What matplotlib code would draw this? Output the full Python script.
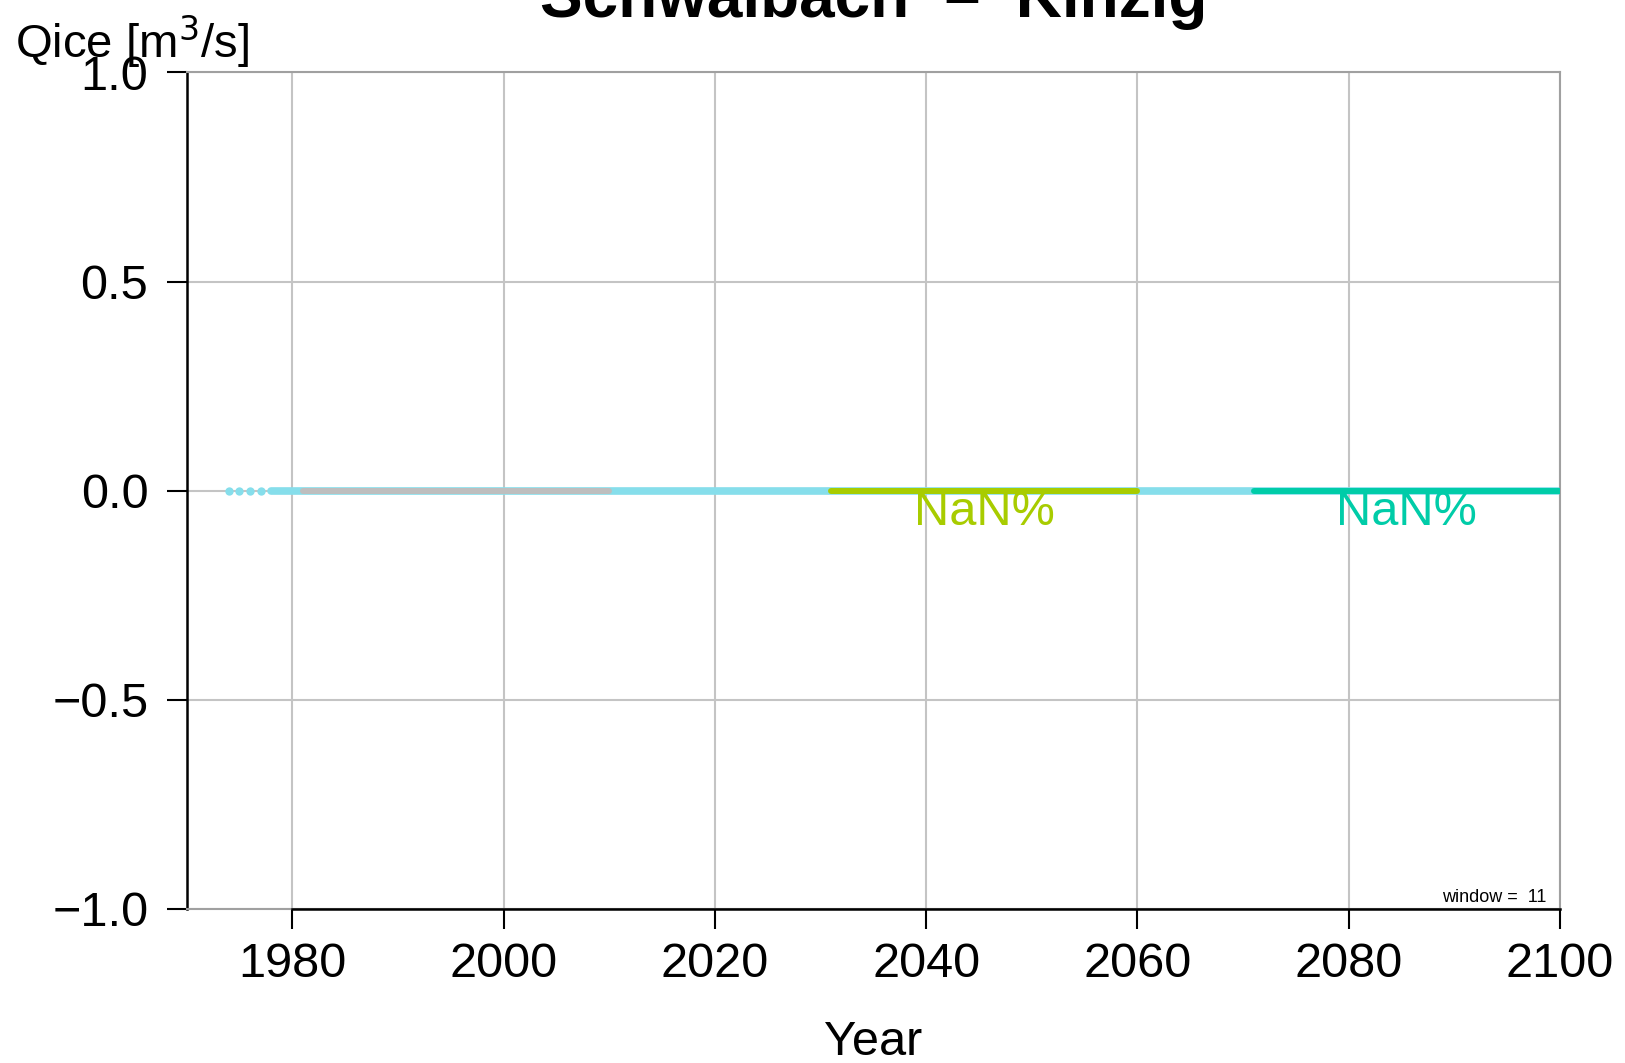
import numpy as np
import matplotlib
matplotlib.use('Agg')
import matplotlib.pyplot as plt

plt.rcParams['font.family'] = ['Liberation Sans', 'DejaVu Sans']

# data (all discharges are zero)
obs_dot_years = [1974, 1975, 1976, 1977]
obs_dot_values = [0.0, 0.0, 0.0, 0.0]
obs_years = list(range(1978, 2101))
obs_values = [0.0] * len(obs_years)

ref_years = list(range(1981, 2011))
ref_values = [0.0] * len(ref_years)

near_years = list(range(2031, 2061))
near_values = [0.0] * len(near_years)

far_years = list(range(2071, 2101))
far_values = [0.0] * len(far_years)

period_labels = ['NaN%', 'NaN%']
window = 11

x_ticks = [1980, 2000, 2020, 2040, 2060, 2080, 2100]
y_ticks = [-1.0, -0.5, 0.0, 0.5, 1.0]
y_ticklabels = ['\u22121.0', '\u22120.5', '0.0', '0.5', '1.0']

col_obs = '#86DEEB'
col_ref = '#BEBEBE'
col_near = '#A8CC00'
col_far = '#00CCA8'

fig = plt.figure(figsize=(16.25, 10.63), dpi=100)
ax = fig.add_axes([0.1148, 0.1449, 0.96 - 0.1148, 0.9318 - 0.1449])

# grid
for xt in x_ticks:
    ax.axvline(xt, color='#C4C4C4', lw=1.5, zorder=0)
for yt in y_ticks:
    ax.axhline(yt, color='#C4C4C4', lw=1.5, zorder=0)

# series
ax.plot(obs_dot_years, obs_dot_values, 'o', color=col_obs, ms=6, mec='none', zorder=2)
ax.plot(obs_years, obs_values, color=col_obs, lw=5.5, solid_capstyle='round', zorder=2)
ax.plot(ref_years, ref_values, color=col_ref, lw=4.3, solid_capstyle='round', zorder=3)
ax.plot(near_years, near_values, color=col_near, lw=4.3, solid_capstyle='round', zorder=3)
ax.plot(far_years, far_values, color=col_far, lw=4.3, solid_capstyle='round', zorder=3)

# change labels
ax.text(np.mean(near_years), -0.052, period_labels[0], color=col_near,
        fontsize=35, ha='center', va='center', zorder=4)
ax.text(np.mean(far_years), -0.052, period_labels[1], color=col_far,
        fontsize=35, ha='center', va='center', zorder=4)

ax.set_xlim(1970, 2100)
ax.set_ylim(-1, 1)
ax.set_xticks(x_ticks)
ax.set_yticks(y_ticks)
ax.set_yticklabels(y_ticklabels)
ax.tick_params(axis='both', labelsize=35, length=14.5, width=1.5, color='black')
ax.tick_params(axis='y', pad=13)
ax.tick_params(axis='x', pad=9)

for s in ['top', 'right', 'bottom']:
    ax.spines[s].set_color('#A0A0A0')
    ax.spines[s].set_linewidth(1.5)
ax.spines['left'].set_color('black')
ax.spines['left'].set_linewidth(1.8)
# axis line only between first and last tick
ax.plot([x_ticks[0], x_ticks[-1]], [-1, -1], color='black', lw=1.8,
        clip_on=False, zorder=5)

ax.set_xlabel('Year', fontsize=35, labelpad=24)

ax.text(0.99, 0.003, 'window =  %d' % window, transform=ax.transAxes,
        fontsize=13, ha='right', va='bottom')

fig.text(0.0095, 1 - 57 / 1063, 'Qice [m$^3$/s]', fontsize=34,
         ha='left', va='baseline')
fig.text((0.1148 + 0.96) / 2, 1 - 17 / 1063, 'Schwalbach  \u2013  Kinzig',
         fontsize=46, fontweight='bold', ha='center', va='baseline')

fig.savefig('out.png', dpi=100)
